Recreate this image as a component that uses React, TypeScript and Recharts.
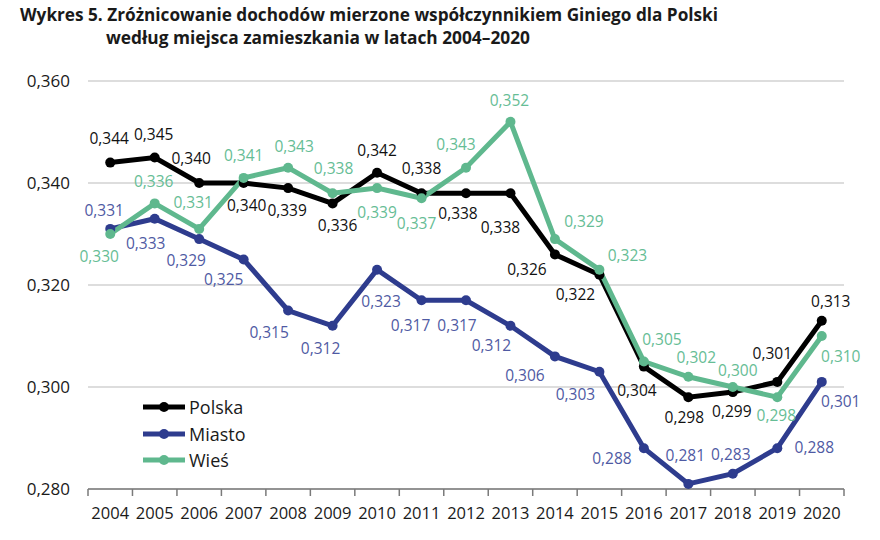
import React from "react";
import { LineChart, Line, XAxis, YAxis, CartesianGrid, LabelList } from "recharts";

const years = ["2004", "2005", "2006", "2007", "2008", "2009", "2010", "2011", "2012", "2013", "2014", "2015", "2016", "2017", "2018", "2019", "2020"];
const polska = [0.344, 0.345, 0.34, 0.34, 0.339, 0.336, 0.342, 0.338, 0.338, 0.338, 0.326, 0.322, 0.304, 0.298, 0.299, 0.301, 0.313];
const miasto = [0.331, 0.333, 0.329, 0.325, 0.315, 0.312, 0.323, 0.317, 0.317, 0.312, 0.306, 0.303, 0.288, 0.281, 0.283, 0.288, 0.301];
const wies = [0.33, 0.336, 0.331, 0.341, 0.343, 0.338, 0.339, 0.337, 0.343, 0.352, 0.329, 0.323, 0.305, 0.302, 0.3, 0.298, 0.31];
const yTicks = [0.28, 0.3, 0.32, 0.34, 0.36];

// label placement relative to each point [dx, dy]
const polskaLabelPos = [[-1, -25], [-1, -24], [-8, -25], [3, 22], [-1, 22], [5, 22], [0, -23], [0, -25], [-8, 20], [-10, 34], [-28, 15], [-24, 19], [-7, 23], [-4, 20], [-1, 19], [-5, -29], [9, -20]];
const miastoLabelPos = [[-6, -19], [-9, 24], [-13, 21], [-20, 19], [-19, 21], [-12, 22], [4, 31], [-11, 25], [-9, 25], [-19, 19], [-30, 19], [-24, 22], [-32, 10], [-3, -29], [-2, -20], [37, -1], [19, 19]];
const wiesLabelPos = [[-11, 22], [-1, -22], [-6, -27], [0, -23], [6, -22], [1, -25], [0, 24], [-5, 25], [-10, -24], [-1, -22], [29, -18], [28, -15], [18, -23], [8, -20], [5, -17], [-1, 18], [19, 20]];

const data = years.map((year, i) => ({
  year,
  polska: polska[i],
  miasto: miasto[i],
  wies: wies[i],
}));

const FONT = "'Open Sans', 'Noto Sans', sans-serif";
const PLOT_LEFT = 88;
const PLOT_RIGHT = 844;
const STEP = (PLOT_RIGHT - PLOT_LEFT) / years.length;

const fmt = (v: number) => v.toFixed(3).replace(".", ",");

const series = [
  { key: "polska", name: "Polska", color: "#000000", labelColor: "#111111", pos: polskaLabelPos },
  { key: "miasto", name: "Miasto", color: "#2e3c8e", labelColor: "#4f5aa3", pos: miastoLabelPos },
  { key: "wies", name: "Wieś", color: "#5fb88e", labelColor: "#66bd95", pos: wiesLabelPos },
];

function makeLabel(pos: number[][], color: string) {
  return (props: any) => {
    const { x, y, index, value } = props;
    const [dx, dy] = pos[index] || [0, -20];
    return (
      <text
        x={x + dx}
        y={y + dy}
        textAnchor="middle"
        dominantBaseline="central"
        fontSize={15.5}
        fontFamily={FONT}
        fill={color}
      >
        {fmt(value)}
      </text>
    );
  };
}

function YearTick(props: any) {
  const { x, y, payload, index } = props;
  return (
    <g>
      <line x1={x - STEP / 2} x2={x - STEP / 2} y1={y} y2={y + 7} stroke="#7a7a7a" strokeWidth={1.5} />
      {index === years.length - 1 && (
        <line x1={x + STEP / 2} x2={x + STEP / 2} y1={y} y2={y + 7} stroke="#7a7a7a" strokeWidth={1.5} />
      )}
      <text x={x} y={y + 30} textAnchor="middle" fontSize={16.5} fontFamily={FONT} fill="#1a1a1a">
        {payload.value}
      </text>
    </g>
  );
}

export default function App() {
  return (
    <div style={{ position: "absolute", left: 0, top: 0, width: 880, height: 540, background: "#fff", fontFamily: FONT }}>
      <svg width={880} height={52} style={{ position: "absolute", left: 0, top: 0 }}>
        <text x={20} y={21} fontSize={17} fontWeight={700} fontFamily={FONT} fill="#1a1a1a" textLength={698} lengthAdjust="spacingAndGlyphs">
          Wykres 5. Zróżnicowanie dochodów mierzone współczynnikiem Giniego dla Polski
        </text>
        <text x={106} y={44} fontSize={17} fontWeight={700} fontFamily={FONT} fill="#1a1a1a" textLength={424} lengthAdjust="spacingAndGlyphs">
          według miejsca zamieszkania w latach 2004–2020
        </text>
      </svg>
      <div style={{ position: "absolute", left: 0, top: 0 }}>
        <LineChart width={880} height={540} data={data} margin={{ top: 81, right: 880 - PLOT_RIGHT, bottom: 0, left: 0 }}>
          <CartesianGrid horizontal vertical={false} stroke="#d2d2d2" strokeWidth={1.5} />
          <XAxis
            dataKey="year"
            interval={0}
            height={51}
            padding={{ left: STEP / 2, right: STEP / 2 }}
            axisLine={{ stroke: "#7a7a7a", strokeWidth: 1.5 }}
            tickLine={false}
            tickSize={0}
            tickMargin={0}
            tick={<YearTick />}
          />
          <YAxis
            domain={[0.28, 0.36]}
            ticks={yTicks}
            width={PLOT_LEFT}
            axisLine={false}
            tickLine={false}
            tickMargin={12}
            tickFormatter={fmt}
            tick={{ fontSize: 17, fill: "#1a1a1a", fontFamily: FONT }}
          />
          {series.map((s) => (
            <Line
              key={s.key}
              dataKey={s.key}
              name={s.name}
              stroke={s.color}
              strokeWidth={5}
              dot={{ r: 5, fill: s.color, stroke: s.color, strokeWidth: 0 }}
              activeDot={false}
              isAnimationActive={false}
            >
              <LabelList dataKey={s.key} content={makeLabel(s.pos, s.labelColor)} />
            </Line>
          ))}
        </LineChart>
      </div>
      <div style={{ position: "absolute", left: 141, top: 394 }}>
        {series.map((s) => (
          <div key={s.key} style={{ display: "flex", alignItems: "center", height: 26.5 }}>
            <svg width={46} height={14}>
              <line x1={2} x2={44} y1={7} y2={7} stroke={s.color} strokeWidth={5} />
              <circle cx={23} cy={7} r={5} fill={s.color} />
            </svg>
            <span style={{ fontSize: 18, color: "#1a1a1a", marginLeft: 2 }}>{s.name}</span>
          </div>
        ))}
      </div>
    </div>
  );
}
